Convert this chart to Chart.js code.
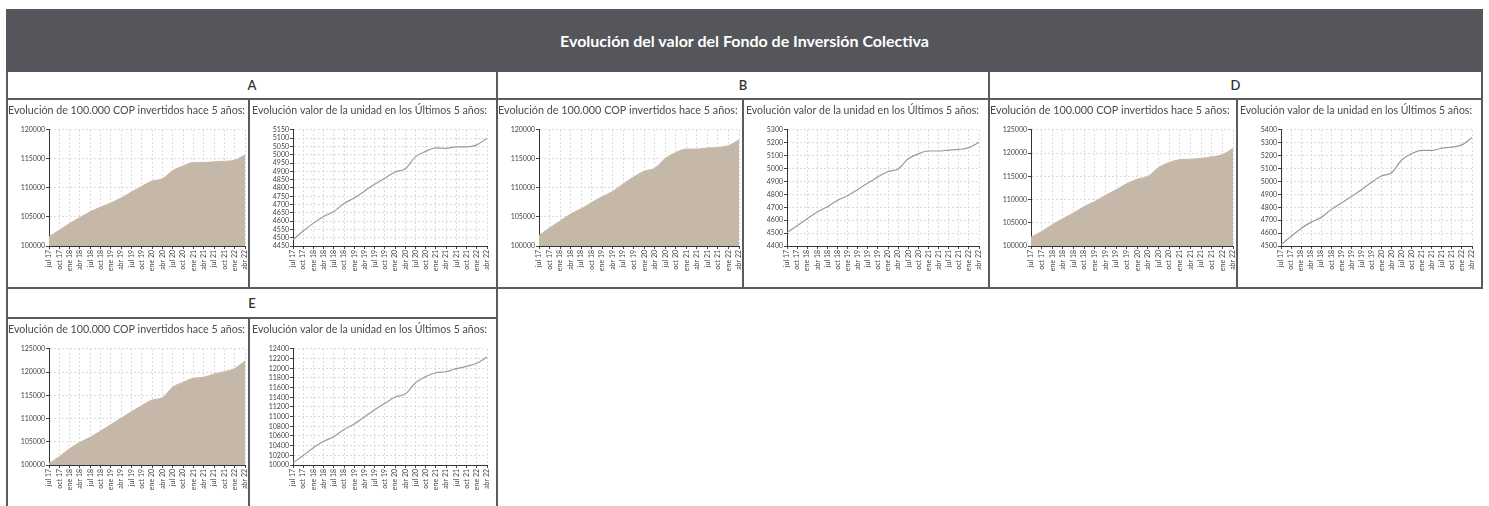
<!DOCTYPE html>
<html>
<head>
<meta charset="utf-8">
<script src="https://cdn.jsdelivr.net/npm/chart.js@4.4.1/dist/chart.umd.min.js"></script>
<style>
  body { margin: 0; background: #fff; font-family: Lato, "Noto Sans", sans-serif; width: 1489px; height: 506px; overflow: hidden; position: relative; }
  .head { position: absolute; left: 6px; top: 9px; width: 1477px; height: 63px; background: #55565b; color: #fff;
          font-weight: 700; font-size: 16px; display: flex; align-items: center; justify-content: center; }
  .box { position: absolute; box-sizing: border-box; border: 2px solid #5a5b5f; background: #fff; overflow: hidden; }
  .lab { display: flex; align-items: center; justify-content: center; font-size: 13px; font-weight: 600; color: #333; }
  .top0 { border-top: 0; }
  canvas { position: absolute; left: 0; top: 0; }
</style>
</head>
<body>
<div class="head">Evolución del valor del Fondo de Inversión Colectiva</div>

<div class="box lab top0" style="left:6px;top:72px;width:492px;height:28px">A</div>
<div class="box lab top0" style="left:496px;top:72px;width:494px;height:28px">B</div>
<div class="box lab top0" style="left:988px;top:72px;width:495px;height:28px">D</div>

<div class="box" id="aInv" style="left:6px;top:98px;width:244px;height:191px"></div>
<div class="box" id="aUni" style="left:248px;top:98px;width:250px;height:191px"></div>
<div class="box" id="bInv" style="left:496px;top:98px;width:248px;height:191px"></div>
<div class="box" id="bUni" style="left:742px;top:98px;width:248px;height:191px"></div>
<div class="box" id="dInv" style="left:988px;top:98px;width:250px;height:191px"></div>
<div class="box" id="dUni" style="left:1236px;top:98px;width:247px;height:191px"></div>

<div class="box lab" style="left:6px;top:287px;width:492px;height:32px">E</div>
<div class="box" id="eInv" style="left:6px;top:317px;width:244px;height:220px"></div>
<div class="box" id="eUni" style="left:248px;top:317px;width:250px;height:220px"></div>

<script>
const meses = ['jul 17', 'oct 17', 'ene 18', 'abr 18', 'jul 18', 'oct 18', 'ene 19', 'abr 19', 'jul 19', 'oct 19',
               'ene 20', 'abr 20', 'jul 20', 'oct 20', 'ene 21', 'abr 21', 'jul 21', 'oct 21', 'ene 22', 'abr 22'];

// evolucion de 100.000 COP invertidos
const inversionA = [101600, 102700, 103900, 104900, 105900, 106700, 107400, 108300, 109300, 110300,
                    111200, 111600, 113000, 113800, 114400, 114400, 114500, 114600, 114800, 115700];
const inversionB = [101800, 103100, 104300, 105500, 106400, 107500, 108500, 109400, 110700, 111900,
                    112900, 113400, 115100, 116100, 116700, 116700, 116900, 117000, 117300, 118300];
const inversionD = [101900, 103100, 104600, 105900, 107100, 108500, 109600, 110900, 112100, 113400,
                    114400, 115000, 116900, 118000, 118600, 118700, 118900, 119200, 119700, 121000];
const inversionE = [100300, 101800, 103500, 104900, 106000, 107300, 108700, 110100, 111500, 112800,
                    114000, 114500, 116800, 117800, 118700, 118900, 119600, 120100, 120800, 122400];

// valor de la unidad
const unidadA = [4488, 4540, 4588, 4628, 4658, 4706, 4740, 4781, 4822, 4859,
                 4896, 4916, 4989, 5021, 5042, 5039, 5048, 5048, 5060, 5100];
const unidadB = [4505, 4558, 4612, 4663, 4705, 4754, 4790, 4839, 4888, 4937,
                 4978, 4998, 5076, 5115, 5137, 5137, 5144, 5149, 5163, 5205];
const unidadD = [4512, 4574, 4636, 4685, 4722, 4784, 4833, 4883, 4937, 4994,
                 5043, 5068, 5167, 5216, 5241, 5241, 5259, 5267, 5284, 5340];
const unidadE = [10046, 10196, 10359, 10490, 10588, 10732, 10850, 10993, 11144, 11275,
                 11405, 11471, 11700, 11830, 11908, 11928, 11993, 12039, 12105, 12235];

const tituloInversion = 'Evolución de 100.000 COP invertidos hace 5 años:';
const tituloUnidad = 'Evolución valor de la unidad en los Últimos 5 años:';

function grafico(id, serie, min, max, paso, area) {
    const caja = document.getElementById(id);
    const cv = document.createElement('canvas');
    cv.width = caja.clientWidth;
    cv.height = 185;
    caja.appendChild(cv);

    const ejes = {
        grid: { color: '#dcdcdc', tickColor: '#444', tickLength: 3, tickBorderDash: [] },
        border: { color: '#333', width: 1, dash: [2, 2] }
    };

    new Chart(cv.getContext('2d'), {
        type: 'line',
        data: {
            labels: meses,
            datasets: [{
                data: serie,
                fill: area ? 'start' : false,
                backgroundColor: '#c6b8a9',
                borderColor: area ? '#c6b8a9' : '#a6968a',
                borderWidth: area ? 1 : 1.2,
                pointRadius: 0,
                cubicInterpolationMode: 'monotone'
            }]
        },
        options: {
            responsive: false,
            animation: false,
            layout: { padding: { left: area ? 0 : 2, right: area ? 3 : 9 } },
            plugins: {
                legend: { display: false },
                tooltip: { enabled: false },
                title: {
                    display: true,
                    text: area ? tituloInversion : tituloUnidad,
                    align: 'start',
                    color: '#4a4a4a',
                    font: { family: 'Lato', size: 10.8, weight: 'normal' },
                    padding: { top: 4, bottom: 13 }
                }
            },
            scales: {
                x: {
                    ...ejes,
                    ticks: { autoSkip: false, minRotation: 90, maxRotation: 90, padding: 1, color: '#444',
                             font: { family: 'Lato', size: 7 } },
                    afterFit: s => { s.height = 39; s.paddingLeft = 0; s.paddingRight = 0; }
                },
                y: {
                    ...ejes,
                    min: min,
                    max: max,
                    ticks: { stepSize: paso, autoSkip: false, padding: 1, color: '#444',
                             font: { family: 'Lato', size: 7 }, callback: v => String(v) },
                    afterFit: s => { s.width = 41; }
                }
            }
        }
    });
}

grafico('aInv', inversionA, 100000, 120000, 5000, true);
grafico('aUni', unidadA, 4450, 5150, 50, false);
grafico('bInv', inversionB, 100000, 120000, 5000, true);
grafico('bUni', unidadB, 4400, 5300, 100, false);
grafico('dInv', inversionD, 100000, 125000, 5000, true);
grafico('dUni', unidadD, 4500, 5400, 100, false);
grafico('eInv', inversionE, 100000, 125000, 5000, true);
grafico('eUni', unidadE, 10000, 12400, 200, false);
</script>
</body>
</html>
